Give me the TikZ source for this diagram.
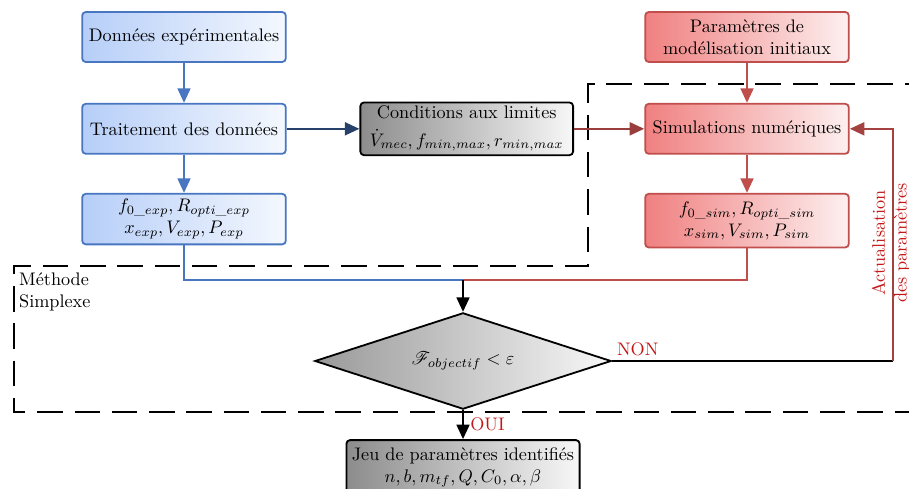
\documentclass[tikz,border=0pt]{standalone}
\usepackage{amsmath,amssymb}
\usepackage{mathrsfs}
\usepackage{xcolor}
\usepackage{tikz}
\usetikzlibrary{positioning,arrows.meta,shapes.geometric,calc}

\definecolor{bleu}{RGB}{72,118,192}
\definecolor{bleuclair}{RGB}{182,206,248}
\definecolor{rouge}{RGB}{192,78,76}
\definecolor{rougeclair}{RGB}{240,128,128}
\definecolor{rougetxt}{RGB}{196,24,24}

\begin{document}
\begin{tikzpicture}[
  x=0.55pt, y=-0.55pt,
  node distance=22pt and 40pt,
  boite/.style={draw, rounded corners=2pt, line width=1pt, minimum width=112pt,
                minimum height=27.5pt, align=center, inner sep=3pt},
  bleubox/.style={boite, draw=bleu, left color=bleuclair, right color=bleuclair!15!white},
  rougebox/.style={boite, draw=rouge, left color=rougeclair, right color=rougeclair!12!white},
  grisbox/.style={boite, draw=black, left color=black!45, right color=black!3},
  testbox/.style={diamond, draw, line width=1pt, aspect=3, minimum width=163pt,
                  minimum height=53pt, inner sep=0pt, left color=black!40, right color=black!3},
  fl/.style={line width=1.4pt, -{Triangle[length=8pt,width=7pt]}},
  ln/.style={line width=1.4pt},
  cadre/.style={line width=1.1pt, dash pattern=on 14pt off 6.5pt}
]
\useasboundingbox (0,0) rectangle (909,488);

% colonne experimentale
\node[bleubox] (donnees) at (184,37) {Données expérimentales};
\node[bleubox, below=of donnees] (traitement) {Traitement des données};
\node[bleubox, below=21pt of traitement] (fexp) {$f_{0\_exp}, R_{opti\_exp}$\\$x_{exp}, V_{exp}, P_{exp}$};
\node[grisbox, minimum width=117pt, minimum height=29pt, inner sep=2pt, right=40pt of traitement] (cond)
  {Conditions aux limites\\[3pt]$\dot{V}_{mec}, f_{min,max}, r_{min,max}$};

% colonne simulation
\node[rougebox] (params) at (747,37) {Paramètres de\\modélisation initiaux};
\node[rougebox, below=of params] (simu) {Simulations numériques};
\node[rougebox, minimum height=29.5pt, below=21pt of simu] (fsim) {$f_{0\_sim}, R_{opti\_sim}$\\$x_{sim}, V_{sim}, P_{sim}$};

% test et resultat
\node[testbox] (test) at (463,361) {$\mathscr{F}_{objectif} < \varepsilon$};
\node[grisbox, minimum width=125pt, minimum height=30pt, below=16pt of test] (jeu)
  {Jeu de paramètres identifiés\\$n, b, m_{tf}, Q, C_0, \alpha, \beta$};

% methode simplexe
\draw[cadre] (930,84) -| (588,266) -| (14,412) -- (930,412);
\node[anchor=north west, align=left, inner sep=1pt] (simplexe) at (17,271) {Méthode\\Simplexe};

\coordinate (merge) at (463,280);
\coordinate (coin) at (893,361);

\draw[fl, bleu] (donnees) -- (traitement);
\draw[fl, bleu] (traitement) -- (fexp);
\draw[fl, bleu!55!black] (traitement) -- (cond);
\draw[fl, rouge!80!black] (cond) -- (simu);
\draw[fl, rouge] (params) -- (simu);
\draw[fl, rouge] (simu) -- (fsim);
\draw[ln, bleu] (fexp.south) |- (merge);
\draw[ln, rouge] (fsim.south) |- (merge);
\draw[fl, black] (merge) -- (test.north);
\draw[ln, black] (test.east) node[above right, text=rougetxt, inner sep=2pt] {NON} -- (coin);
\draw[fl, rouge!85!black] (coin) |- (simu.east);
\node[rotate=90, align=center, text=rougetxt] (actu) at (891,243) {Actualisation\\des paramètres};
\draw[fl, black] (test.south) -- node[right, text=rougetxt] {OUI} (jeu.north);
\end{tikzpicture}
\end{document}
